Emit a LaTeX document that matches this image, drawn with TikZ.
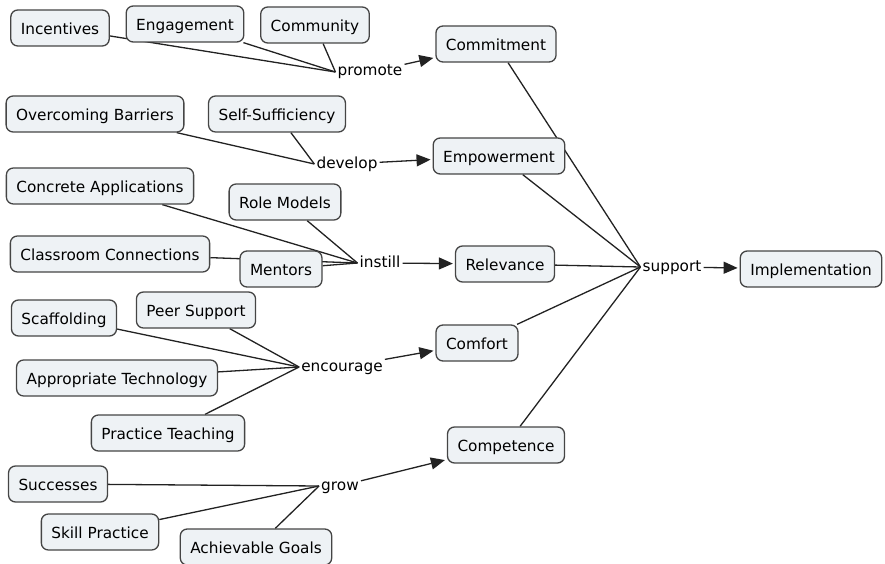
\documentclass[tikz,border=0pt]{standalone}
\usepackage{fontspec}
\setmainfont{DejaVu Sans}
\usetikzlibrary{arrows.meta, backgrounds}
\definecolor{cmfill}{HTML}{EEF2F5}
\definecolor{cmborder}{HTML}{454545}
\definecolor{cmline}{HTML}{222222}

\begin{document}
\begin{tikzpicture}[x=1pt, y=-1pt, font=\fontsize{15.3}{18}\selectfont,
    concept/.style={draw=cmborder, fill=cmfill, line width=1.3pt, rounded corners=7pt,
      inner xsep=10pt, inner ysep=0pt, minimum height=36pt, text height=13.5pt, text depth=0.5pt},
    phrase/.style={inner sep=2pt, text height=11.5pt, text depth=3.5pt},
    conn/.style={draw=cmline, line width=1.3pt},
    arr/.style={conn, -{Triangle[length=14pt, width=12pt]}, shorten >=2pt}]
    \useasboundingbox (0,0) rectangle (885,564);

    \node[concept] (inc) at (60,28) {Incentives};
    \node[concept] (eng) at (185,24) {Engagement};
    \node[concept] (comm) at (315,25) {Community};
    \node[phrase] (promote) at (370,72) {promote};
    \node[concept] (commit) at (496,44) {Commitment};

    \node[concept] (over) at (95,114) {Overcoming Barriers};
    \node[concept] (self) at (277,114) {Self-Sufficiency};
    \node[phrase] (develop) at (347,164) {develop};
    \node[concept] (empow) at (499,156) {Empowerment};

    \node[concept] (concrete) at (100,186) {Concrete Applications};
    \node[concept] (role) at (285,202) {Role Models};
    \node[concept] (class) at (110,254) {Classroom Connections};
    \node[concept] (mentors) at (281,269) {Mentors};
    \node[phrase] (instill) at (380,263) {instill};
    \node[concept] (relev) at (505,264) {Relevance};

    \node[phrase] (support) at (672,267) {support};
    \node[concept] (impl) at (811,269) {Implementation};

    \node[concept] (scaff) at (64,318) {Scaffolding};
    \node[concept] (peer) at (196,310) {Peer Support};
    \node[concept] (approp) at (117,378) {Appropriate Technology};
    \node[concept] (practice) at (168,433) {Practice Teaching};
    \node[phrase] (encourage) at (342,367) {encourage};
    \node[concept] (comfort) at (477,343) {Comfort};

    \node[concept] (succ) at (58,484) {Successes};
    \node[concept] (skill) at (100,532) {Skill Practice};
    \node[concept] (achiev) at (256,547) {Achievable Goals};
    \node[phrase] (grow) at (340,486) {grow};
    \node[concept] (compet) at (506,445) {Competence};

    % connectors behind the boxes
    \begin{scope}[on background layer]
      \foreach \c in {inc, eng, comm}
        \draw[conn] (\c) -- (promote.west);
      \draw[arr] (promote) -- (commit);
      \foreach \c in {over, self}
        \draw[conn] (\c) -- (develop.west);
      \draw[arr] (develop) -- (empow);
      \foreach \c in {concrete, role, class, mentors}
        \draw[conn] (\c) -- (instill.west);
      \draw[arr] (instill) -- (relev);
      \foreach \c in {scaff, peer, approp, practice}
        \draw[conn] (\c) -- (encourage.west);
      \draw[arr] (encourage) -- (comfort);
      \foreach \c in {succ, skill, achiev}
        \draw[conn] (\c) -- (grow.west);
      \draw[arr] (grow) -- (compet);
      \foreach \c in {commit, empow, relev, comfort, compet}
        \draw[conn] (\c) -- (support.west);
      \draw[arr] (support) -- (impl);
    \end{scope}
\end{tikzpicture}
\end{document}
